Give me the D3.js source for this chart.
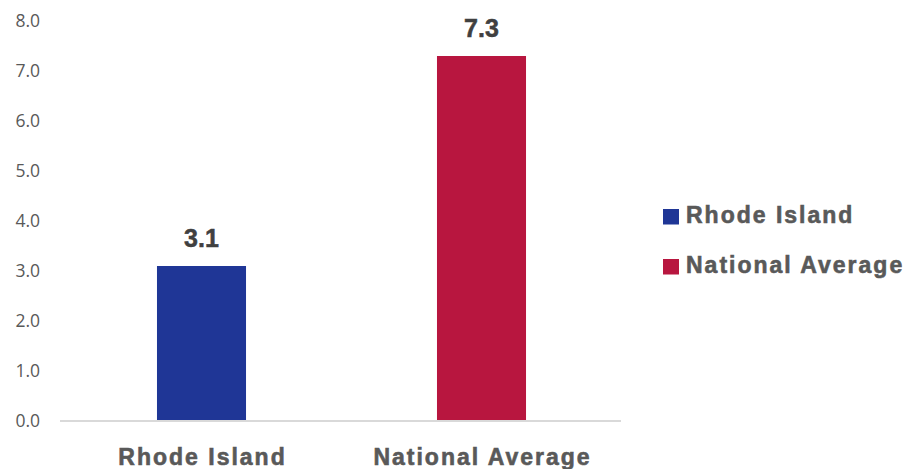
<!DOCTYPE html>
<html><head><meta charset="utf-8">
<script src="https://cdn.jsdelivr.net/npm/d3@7"></script>
<style>body{margin:0;background:#fff}svg{display:block}</style>
</head><body>
<svg id="c" width="905" height="469"></svg>
<script>
const categories = ["Rhode Island", "National Average"];
const values = [3.1, 7.3];
const colors = ["#1f3696", "#b8163f"];
const yTicks = [0, 1, 2, 3, 4, 5, 6, 7, 8];

const svg = d3.select("#c");
const x = d3.scaleBand().domain(categories).range([61.5, 621.5]).paddingInner(0.682).paddingOuter(0.341);
const y = d3.scaleLinear().domain([0, 8]).range([421, 21]);

// y tick labels
svg.append("g").selectAll("text").data(yTicks).join("text")
  .attr("x", 40).attr("y", d => y(d)).attr("dy", "0.35em")
  .attr("text-anchor", "end")
  .attr("font-family", "Open Sans, sans-serif").attr("font-size", 17.5)
  .attr("fill", "#595959")
  .text(d => d3.format(".1f")(d));

// bars
svg.append("g").selectAll("rect").data(categories).join("rect")
  .attr("x", d => x(d)).attr("width", x.bandwidth())
  .attr("y", (d, i) => y(values[i])).attr("height", (d, i) => y(0) - y(values[i]) + 1)
  .attr("fill", (d, i) => colors[i]);

// baseline
svg.append("line").attr("x1", 60).attr("x2", 621).attr("y1", y(0)).attr("y2", y(0))
  .attr("stroke", "#d9d9d9").attr("stroke-width", 2);

// value labels
svg.append("g").selectAll("text").data(categories).join("text")
  .attr("x", d => x(d) + x.bandwidth() / 2).attr("y", (d, i) => y(values[i]) - 19)
  .attr("text-anchor", "middle")
  .attr("font-family", "Liberation Sans, Arial, sans-serif").attr("font-weight", "bold").attr("font-size", 25)
  .attr("fill", "#404040").attr("stroke", "#404040").attr("stroke-width", 0.5)
  .text((d, i) => d3.format(".1f")(values[i]));

const ls = 2;
// category labels
svg.append("g").selectAll("text").data(categories).join("text")
  .attr("x", d => x(d) + x.bandwidth() / 2 + ls / 2).attr("y", 465)
  .attr("text-anchor", "middle")
  .attr("font-family", "Liberation Sans, Arial, sans-serif").attr("font-weight", "bold").attr("font-size", 23)
  .attr("letter-spacing", ls)
  .attr("fill", "#595959").attr("stroke", "#595959").attr("stroke-width", 0.6)
  .text(d => d);

// legend
const lg = svg.append("g").selectAll("g").data(categories).join("g")
  .attr("transform", (d, i) => `translate(663,${209 + i * 50})`);
lg.append("rect").attr("width", 16).attr("height", 15.5).attr("fill", (d, i) => colors[i]);
lg.append("text").attr("x", 23).attr("y", 14)
  .attr("font-family", "Liberation Sans, Arial, sans-serif").attr("font-weight", "bold").attr("font-size", 23)
  .attr("letter-spacing", ls)
  .attr("fill", "#595959").attr("stroke", "#595959").attr("stroke-width", 0.6)
  .text(d => d);
</script>
</body></html>
